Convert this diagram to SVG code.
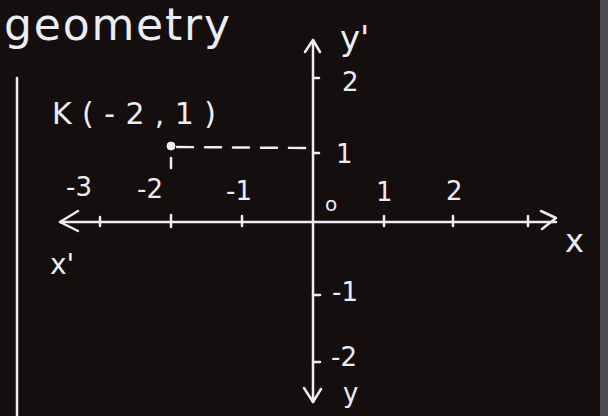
<svg xmlns="http://www.w3.org/2000/svg" width="608" height="416" viewBox="0 0 608 416">
<style>
.chalk{stroke:#ecedf2;stroke-width:2.5;fill:none;stroke-linecap:round;stroke-linejoin:round}
.t{fill:#ecedf2;font-family:"DejaVu Sans","Liberation Sans",sans-serif}
.lab{font-size:26px}
</style>
<rect x="0" y="0" width="608" height="416" fill="#140e0f"/>
<rect x="600" y="0" width="8" height="416" fill="#4b4a4e"/>
<g id="title"><text class="t" x="4" y="40" font-size="44" textLength="226" lengthAdjust="spacing">geometry</text></g>
<g id="margin"><line class="chalk" x1="17" y1="78" x2="17" y2="416"/></g>
<g id="connectors">
<line class="chalk" x1="60" y1="222" x2="556" y2="222"/>
<polyline class="chalk" points="78,211 60,222 78,231"/>
<polyline class="chalk" points="541,211 556,218 542,229"/>
<line class="chalk" x1="313" y1="40" x2="313" y2="402"/>
<polyline class="chalk" points="305,52 313,40 320,52"/>
<polyline class="chalk" points="304,388 313,402 321,389"/>
<g stroke-width="2">
<line class="chalk" x1="100" y1="217" x2="100" y2="226"/>
<line class="chalk" x1="171" y1="215" x2="171" y2="227"/>
<line class="chalk" x1="242" y1="216" x2="242" y2="226"/>
<line class="chalk" x1="384" y1="216" x2="384" y2="226"/>
<line class="chalk" x1="453" y1="216" x2="453" y2="226"/>
<line class="chalk" x1="528" y1="216" x2="528" y2="226"/>
<line class="chalk" x1="313" y1="78" x2="319" y2="78"/>
<line class="chalk" x1="313" y1="153" x2="319" y2="153"/>
<line class="chalk" x1="313" y1="295" x2="320" y2="295"/>
<line class="chalk" x1="313" y1="362" x2="320" y2="362"/>
</g>
<line class="chalk" x1="177" y1="147" x2="305" y2="148" stroke-dasharray="16,12" stroke-width="2.2"/>
<line class="chalk" x1="171" y1="158" x2="171" y2="168" stroke-width="2.2"/>
</g>
<g id="point-K">
<circle cx="171" cy="146" r="4" fill="#ecedf2" stroke="#ecedf2" stroke-width="1"/>
<text class="t" x="52" y="124" font-size="30" textLength="164" lengthAdjust="spacing">K(-2,1)</text>
</g>
<g id="labels">
<text class="t lab" x="66" y="196">-3</text>
<text class="t lab" x="137" y="198">-2</text>
<text class="t lab" x="226" y="200">-1</text>
<text class="t" x="325" y="211" font-size="20">o</text>
<text class="t lab" x="376" y="201">1</text>
<text class="t lab" x="446" y="200">2</text>
<text class="t" x="565" y="252" font-size="32">x</text>
<text class="t" x="50" y="274" font-size="28">x'</text>
<text class="t" x="340" y="50" font-size="34">y'</text>
<text class="t lab" x="342" y="91">2</text>
<text class="t lab" x="336" y="163">1</text>
<text class="t lab" x="332" y="301">-1</text>
<text class="t lab" x="331" y="366">-2</text>
<text class="t" x="343" y="402" font-size="26">y</text>
</g>
</svg>
